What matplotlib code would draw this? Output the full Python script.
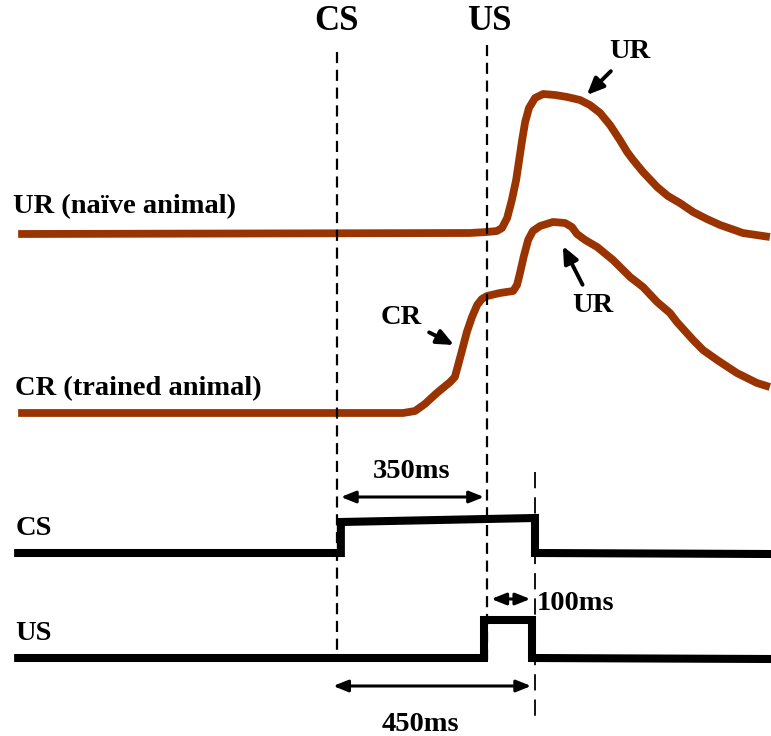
import matplotlib.pyplot as plt
import numpy as np

# 시간축 (ms, CS onset = 0), 진폭은 그림 단위
ur_t = [-744, 310, 350, 373, 385, 397, 408, 418, 425, 432, 439, 448, 462, 481,
        509, 537, 567, 590, 614, 637, 660, 677, 691, 714, 747, 772, 800, 831,
        863, 894, 947, 1010]
ur_amp = [0, 1, 2, 3, 6, 16, 34, 54, 74, 94, 112, 126, 136, 140,
          139, 137, 134, 129, 121, 109, 94, 82, 74, 62, 47, 38, 31, 22,
          15, 9, 1, -3]

cr_t = [-744, 154, 182, 205, 233, 264, 275, 282, 292, 303, 315, 327, 338, 350,
        380, 411, 420, 427, 436, 446, 457, 474, 504, 532, 548, 560, 579, 607,
        644, 684, 714, 747, 777, 793, 831, 854, 887, 933, 980, 1010]
cr_amp = [0, 0, 2, 9, 20, 31, 36, 47, 63, 81, 96, 108, 114, 117,
          120, 122, 128, 140, 157, 173, 182, 187, 191, 190, 186, 179, 173, 166,
          153, 136, 126, 111, 100, 91, 73, 63, 53, 40, 30, 26]

cs_t = [-744, 9, 9, 462, 462, 1010]
cs_amp = [0, 0, 31, 35, 0, -1]
us_t = [-744, 343, 343, 455, 455, 1010]
us_amp = [0, 0, 38, 38, 0, -1]

# 각 trace의 기준선 (아래로 증가)
base_ur, base_cr, base_cs, base_us = 234, 413, 553, 658

brown = '#993300'
plt.rcParams['font.family'] = ['Liberation Serif', 'DejaVu Serif']

fig = plt.figure(figsize=(7.71, 7.36), dpi=100)
ax = fig.add_axes([0, 0, 1, 1])
ax.set_xlim(-337 / (150 / 350), (771 - 337) / (150 / 350))
ax.set_ylim(736, 0)
ax.axis('off')

ax.plot(ur_t, base_ur - np.array(ur_amp), color=brown, lw=5.6,
        solid_capstyle='butt', solid_joinstyle='round')
ax.plot(cr_t, base_cr - np.array(cr_amp), color=brown, lw=5.6,
        solid_capstyle='butt', solid_joinstyle='round')
ax.plot(cs_t, base_cs - np.array(cs_amp), color='black', lw=5.8, solid_joinstyle='miter')
ax.plot(us_t, base_us - np.array(us_amp), color='black', lw=5.8, solid_joinstyle='miter')

# 점선
ax.plot([0, 0], [52, 658], color='black', lw=1.6, ls=(0, (5, 3)))
ax.plot([350, 350], [45, 660], color='black', lw=1.6, ls=(0, (5, 3)))
ax.plot([462, 462], [472, 716], color='black', lw=1.3, ls=(0, (9, 5)))

bold = dict(fontweight='bold', color='black')
ax.text(0, 22, 'CS', ha='center', va='center', fontsize=25, **bold)
ax.text(355, 22, 'US', ha='center', va='center', fontsize=25, **bold)
ax.text(-756, 213, 'UR (naïve animal)', ha='left', va='baseline', fontsize=20.5, **bold)
ax.text(-751, 395, 'CR (trained animal)', ha='left', va='baseline', fontsize=20.5, **bold)
ax.text(-751, 535, 'CS', ha='left', va='baseline', fontsize=20.5, **bold)
ax.text(-751, 640, 'US', ha='left', va='baseline', fontsize=20.5, **bold)

# 화살표 주석
arr = dict(arrowstyle='-|>,head_length=0.5,head_width=0.22', color='black',
           lw=2.8, mutation_scale=20, shrinkA=4, shrinkB=0)
ax.annotate('UR', xy=(583, 95), xytext=(684, 52), ha='center', va='center',
            fontsize=20.5, arrowprops=arr, **bold)
ax.annotate('UR', xy=(527, 246), xytext=(597, 305), ha='center', va='center',
            fontsize=20.5, arrowprops=arr, **bold)
ax.annotate('CR', xy=(273, 345), xytext=(149, 318), ha='center', va='center',
            fontsize=20.5, arrowprops=arr, **bold)

# 시간 간격 화살표
darr = dict(arrowstyle='<|-|>,head_length=0.55,head_width=0.22', color='black',
            lw=2.2, mutation_scale=16, shrinkA=0, shrinkB=0)
ax.annotate('', xy=(343, 497), xytext=(9, 497), arrowprops=darr)
ax.annotate('', xy=(451, 599), xytext=(360, 599), arrowprops=darr)
ax.annotate('', xy=(453, 686), xytext=(-9, 686), arrowprops=darr)
ax.text(175, 478, '350ms', ha='center', va='baseline', fontsize=20.5, **bold)
ax.text(467, 610, '100ms', ha='left', va='baseline', fontsize=20.5, **bold)
ax.text(194, 731, '450ms', ha='center', va='baseline', fontsize=20.5, **bold)

fig.savefig('out.png', dpi=100)
